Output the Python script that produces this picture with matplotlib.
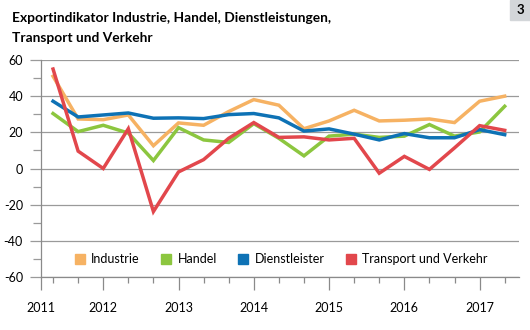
import numpy as np
import matplotlib
matplotlib.use("Agg")
import matplotlib.pyplot as plt
from matplotlib.lines import Line2D

# survey values (3 per year, mid 2011 .. mid 2017)
industrie = [51, 27.4, 27, 29.6, 12.6, 25.2, 23.9, 31.5, 38.1, 35, 22, 26.3, 32.2, 26.3, 26.7, 27.4, 25.4, 37.2, 40]
handel = [30.4, 20.4, 23.9, 19.6, 4.4, 22.6, 15.8, 14.4, 24.8, 16.7, 7, 17.9, 19, 17.2, 17.9, 24.3, 17.9, 20.2, 34.4]
dienstleister = [37.2, 28.5, 29.6, 30.7, 27.8, 28, 27.6, 29.8, 30.4, 28, 20.7, 21.9, 19, 15.8, 19.3, 17, 17, 21.5, 18.7]
transport = [55, 9.6, 0, 22, -23.8, -1.9, 4.9, 16.7, 25.4, 17.2, 17.5, 15.8, 16.7, -2.6, 6.7, -0.5, 11.4, 23.7, 21.1]

year_labels = ["2011", "2012", "2013", "2014", "2015", "2016", "2017"]
year_pos = [2, 5, 8, 11, 14, 17]   # survey index where each new year starts

names = ["Industrie", "Handel", "Dienstleister", "Transport und Verkehr"]
colors = ["#F6B263", "#8CC63F", "#0E72B5", "#E2474C"]

plt.rcParams["font.family"] = ["Lato", "DejaVu Sans"]

fig = plt.figure(figsize=(5.3, 3.3), dpi=100)
ax = fig.add_axes([41 / 530, 53 / 330, 478 / 530, 217 / 330])

x = np.arange(len(industrie))
for vals, c in zip([industrie, handel, dienstleister, transport], colors):
    ax.plot(x, vals, color=c, lw=2.5, solid_joinstyle="miter", zorder=3)

xmin, xmax = -0.48, 18.57
ax.set_xlim(xmin, xmax)
ax.set_ylim(-60, 60)

ax.set_yticks(np.arange(-60, 61, 20))
ax.set_yticklabels([f"{v:d}" for v in range(-60, 61, 20)])
ax.set_yticks(np.arange(-50, 60, 20), minor=True)
ax.yaxis.grid(True, color="#9a9a9a", lw=0.9)
ax.set_axisbelow(True)

ax.set_xticks([xmin] + year_pos)
ax.set_xticklabels(year_labels)
ax.set_xticks([i for i in x if i not in year_pos], minor=True)

for s in ["top", "right"]:
    ax.spines[s].set_visible(False)
for s in ["left", "bottom"]:
    ax.spines[s].set_color("#8a8a8a")
    ax.spines[s].set_linewidth(0.9)

ax.tick_params(axis="y", which="major", length=8, width=0.9, color="#9a9a9a", pad=5, labelsize=9)
ax.tick_params(axis="y", which="minor", length=6, width=0.9, color="#9a9a9a")
ax.tick_params(axis="x", which="major", length=9, width=0.9, color="#8a8a8a", pad=9, labelsize=9)
ax.tick_params(axis="x", which="minor", length=4, width=0.9, color="#8a8a8a")

handles = [Line2D([], [], marker="s", ls="none", color=c, markersize=7) for c in colors]
ax.legend(handles, names, loc="center", bbox_to_anchor=(0.5, 0.083), ncol=4,
          frameon=False, fontsize=9, handletextpad=0.3, columnspacing=1.5,
          handlelength=1.2)

fig.text(12 / 530, 1 - 18 / 330, "Exportindikator Industrie, Handel, Dienstleistungen,",
         fontsize=9.9, fontweight="bold", va="center", ha="left")
fig.text(12 / 530, 1 - 38 / 330, "Transport und Verkehr",
         fontsize=9.9, fontweight="bold", va="center", ha="left")

fig.patches.append(plt.Rectangle((510 / 530, 1 - 20 / 330), 20 / 530, 20 / 330,
                                 transform=fig.transFigure, color="#d3d6d9", zorder=0))
fig.text(520 / 530, 1 - 10 / 330, "3", fontsize=9.5, fontweight="bold", ha="center", va="center")

fig.savefig("out.png", dpi=100)
